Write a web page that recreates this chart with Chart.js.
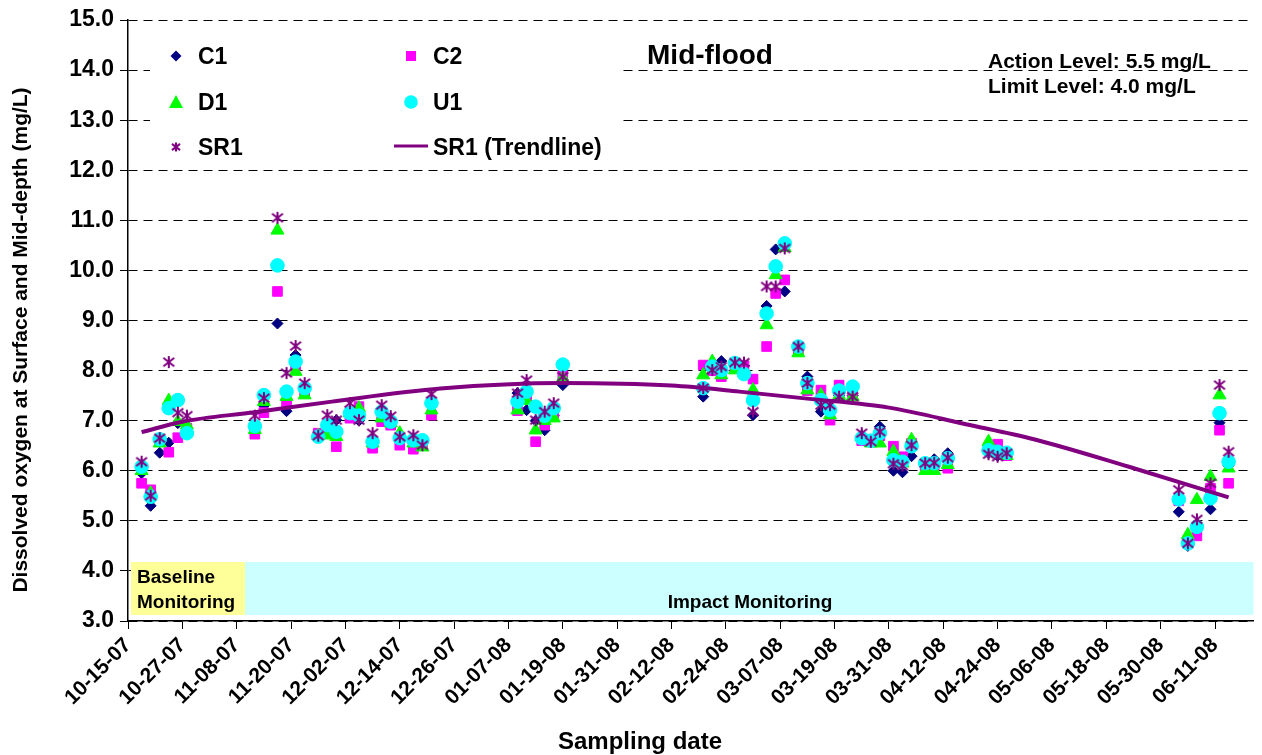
<!DOCTYPE html>
<html><head><meta charset="utf-8">
<script src="https://cdn.jsdelivr.net/npm/chart.js@4/dist/chart.umd.min.js"></script>
<style>html,body{margin:0;padding:0;background:#fff}#wrap{width:1262px;height:755px;position:relative}</style>
</head><body><div id="wrap"><canvas id="c"></canvas></div>
<script>
// ---------- DATA ----------
const seriesNames = ['C1', 'C2', 'D1', 'U1', 'SR1', 'SR1 (Trendline)'];
const dates = ['10-18-07','10-20-07','10-22-07','10-24-07','10-26-07','10-28-07',
'11-12-07','11-14-07','11-17-07','11-19-07','11-21-07','11-23-07',
'11-26-07','11-28-07','11-30-07','12-03-07','12-05-07','12-08-07','12-10-07','12-12-07','12-14-07','12-17-07','12-19-07','12-21-07',
'01-09-08','01-11-08','01-13-08','01-15-08','01-17-08','01-19-08',
'02-19-08','02-21-08','02-23-08','02-26-08','02-28-08','03-01-08','03-04-08','03-06-08','03-08-08','03-11-08','03-13-08','03-16-08','03-18-08','03-20-08','03-23-08',
'03-25-08','03-27-08','03-29-08','04-01-08','04-03-08','04-05-08','04-08-08','04-10-08','04-13-08',
'04-22-08','04-24-08','04-26-08',
'06-03-08','06-05-08','06-07-08','06-10-08','06-12-08','06-14-08'];
const c1 = [5.95,5.30,6.36,6.56,6.95,6.85,
6.85,7.30,8.94,7.19,8.31,7.60,
6.72,6.80,7.01,7.20,7.00,6.55,7.00,7.05,6.65,6.60,6.55,7.30,
7.55,7.21,7.00,6.81,7.10,7.71,
7.48,8.10,8.19,8.10,8.10,7.11,9.29,10.42,9.58,8.45,7.88,7.18,7.15,7.50,7.50,
6.70,6.60,6.88,6.00,5.97,6.29,6.10,6.23,6.35,
6.35,6.30,6.35,
5.18,4.50,4.90,5.23,6.96,6.10];
const c2 = [5.75,5.62,6.58,6.37,6.66,6.85,
6.73,7.16,9.58,7.35,8.10,7.55,
6.75,6.80,6.48,7.05,7.28,6.45,6.98,6.91,6.51,6.43,6.50,7.11,
7.20,7.45,6.58,6.91,7.15,7.90,
8.11,8.00,7.88,8.05,8.10,7.83,8.48,9.54,9.81,8.40,7.60,7.61,7.01,7.71,7.55,
6.60,6.62,6.70,6.49,6.28,6.55,6.10,6.10,6.05,
6.45,6.53,6.30,
5.40,4.60,4.70,5.65,6.81,5.75];
const d1 = [6.00,5.55,6.55,7.40,6.98,6.91,
6.82,7.38,10.80,7.48,7.98,7.51,
6.70,6.71,6.68,7.15,7.25,6.55,7.05,6.95,6.75,6.55,6.47,7.21,
7.21,7.40,6.81,7.00,7.05,7.85,
7.91,8.18,7.91,8.01,7.95,7.61,8.91,9.91,10.45,8.35,7.61,7.51,7.11,7.50,7.48,
6.68,6.55,6.55,6.38,6.15,6.62,6.00,6.00,6.12,
6.58,6.35,6.30,
5.45,4.72,5.42,5.88,7.51,6.05];
const u1 = [6.08,5.48,6.63,7.25,7.41,6.75,
6.89,7.51,10.10,7.58,8.18,7.65,
6.68,6.91,6.78,7.15,7.10,6.58,7.18,6.98,6.65,6.61,6.61,7.35,
7.38,7.58,7.28,7.10,7.25,8.12,
7.65,8.08,8.01,8.15,7.93,7.41,9.14,10.08,10.54,8.48,7.75,7.41,7.21,7.60,7.68,
6.65,6.60,6.75,6.21,6.18,6.49,6.15,6.15,6.25,
6.41,6.38,6.36,
5.43,4.55,4.88,5.45,7.15,6.18];
const sr1 = [6.18,5.50,6.65,8.17,7.16,7.10,
7.10,7.45,11.05,7.95,8.49,7.75,
6.70,7.11,7.01,7.35,7.01,6.75,7.31,7.09,6.68,6.71,6.51,7.53,
7.55,7.81,7.01,7.18,7.35,7.88,
7.65,8.01,8.08,8.16,8.16,7.18,9.68,9.68,10.44,8.48,7.75,7.31,7.31,7.48,7.48,
6.75,6.58,6.78,6.14,6.10,6.51,6.15,6.16,6.26,
6.33,6.28,6.35,
5.62,4.55,5.03,5.75,7.71,6.38];
// trendline
const trendDates = ['10-18-07','10-27-07','11-12-07','11-29-07','12-23-07','01-19-08','02-12-08','02-27-08','03-13-08','03-31-08','04-17-08','05-02-08','05-23-08','06-14-08'];
const trendValues = [6.77,6.98,7.17,7.38,7.64,7.75,7.70,7.58,7.44,7.26,6.93,6.63,6.08,5.47];
const tickLabels = ['10-15-07','10-27-07','11-08-07','11-20-07','12-02-07','12-14-07','12-26-07','01-07-08','01-19-08','01-31-08','02-12-08','02-24-08','03-07-08','03-19-08','03-31-08','04-12-08','04-24-08','05-06-08','05-18-08','05-30-08','06-11-08'];
const phaseLabels = ['Baseline', 'Monitoring', 'Impact Monitoring'];
const chartTitle = 'Mid-flood';
const levelNotes = ['Action Level: 5.5 mg/L', 'Limit Level: 4.0 mg/L'];
const xTitle = 'Sampling date';
const yTitle = 'Dissolved oxygen at Surface and Mid-depth (mg/L)';

// ---------- HELPERS ----------
const FONT = '"Liberation Sans", Arial, Helvetica, sans-serif';
const ORIGIN = Date.UTC(2007, 9, 15);
function dayOf(s) { const [m, d, y] = s.split('-').map(Number); return (Date.UTC(2000 + y, m - 1, d) - ORIGIN) / 86400000; }
function pts(vals) { return dates.map((d, i) => ({x: dayOf(d), y: vals[i]})).filter(p => p.y != null); }

function starCanvas(size, r, lw) {
  const cv = document.createElement('canvas'); cv.width = cv.height = size;
  const g = cv.getContext('2d'); g.strokeStyle = '#800080'; g.lineWidth = lw; g.lineCap = 'butt';
  const c = size / 2;
  g.beginPath();
  g.moveTo(c, c - r); g.lineTo(c, c + r);
  g.moveTo(c - r * 0.9, c - r * 0.7); g.lineTo(c + r * 0.9, c + r * 0.7);
  g.moveTo(c - r * 0.9, c + r * 0.7); g.lineTo(c + r * 0.9, c - r * 0.7);
  g.stroke();
  return cv;
}
const starPlot = starCanvas(14, 6, 2);

const C = {c1: '#000080', c2: '#FF00FF', d1: '#00FF00', u1: '#00FFFF', sr: '#800080'};

const decor = {
  id: 'decor',
  beforeDatasetsDraw(chart) {
    const ctx = chart.ctx, a = chart.chartArea;
    ctx.save();
    ctx.fillStyle = '#FFFF99'; ctx.fillRect(a.left + 3, 562, 114, 53);
    ctx.fillStyle = '#CCFFFF'; ctx.fillRect(a.left + 117, 562, a.right - a.left - 117, 53);
    ctx.fillStyle = '#000'; ctx.font = 'bold 19px ' + FONT; ctx.textBaseline = 'alphabetic';
    ctx.textAlign = 'left';
    ctx.fillText(phaseLabels[0], 137, 583);
    ctx.fillText(phaseLabels[1], 137, 608);
    ctx.textAlign = 'center';
    ctx.fillText(phaseLabels[2], 750, 608);
    // legend background
    ctx.fillStyle = '#fff'; ctx.fillRect(150, 30, 470, 135);
    ctx.restore();
  },
  afterDatasetsDraw(chart) {
    const ctx = chart.ctx;
    ctx.save();
    ctx.fillStyle = '#000'; ctx.textBaseline = 'alphabetic'; ctx.textAlign = 'left';
    // legend
    const rows = [56, 102, 147], cols = [176, 411];
    ctx.font = 'bold 23px ' + FONT;
    const lab = (t, x, y) => ctx.fillText(t, x, y + 8);
    ctx.fillStyle = C.c1; ctx.beginPath();
    ctx.moveTo(cols[0] - 5.5, rows[0]); ctx.lineTo(cols[0], rows[0] - 5.5); ctx.lineTo(cols[0] + 5.5, rows[0]); ctx.lineTo(cols[0], rows[0] + 5.5); ctx.closePath(); ctx.fill();
    ctx.fillStyle = C.c2; ctx.fillRect(cols[1] - 5, rows[0] - 5, 10, 10);
    ctx.fillStyle = C.d1; ctx.beginPath();
    ctx.moveTo(cols[0], rows[1] - 7); ctx.lineTo(cols[0] + 7, rows[1] + 6); ctx.lineTo(cols[0] - 7, rows[1] + 6); ctx.closePath(); ctx.fill();
    ctx.fillStyle = C.u1; ctx.beginPath(); ctx.arc(cols[1], rows[1], 6.8, 0, Math.PI * 2); ctx.fill();
    ctx.drawImage(starCanvas(12, 4.5, 2), cols[0] - 6, rows[2] - 6);
    ctx.strokeStyle = C.sr; ctx.lineWidth = 3; ctx.beginPath(); ctx.moveTo(394, rows[2] - 1); ctx.lineTo(428, rows[2] - 1); ctx.stroke();
    ctx.fillStyle = '#000';
    lab(seriesNames[0], 198, rows[0]); lab(seriesNames[1], 433, rows[0]);
    lab(seriesNames[2], 198, rows[1]); lab(seriesNames[3], 433, rows[1]);
    lab(seriesNames[4], 198, rows[2]); lab(seriesNames[5], 433, rows[2]);
    // title
    ctx.font = 'bold 28px ' + FONT; ctx.textAlign = 'center';
    ctx.fillText(chartTitle, 710, 64);
    // level notes
    ctx.font = 'bold 21px ' + FONT; ctx.textAlign = 'left';
    ctx.fillText(levelNotes[0], 988, 68);
    ctx.fillText(levelNotes[1], 988, 93);
    // axis titles
    ctx.font = 'bold 24px ' + FONT; ctx.textAlign = 'center';
    ctx.fillText(xTitle, 640, 749);
    ctx.translate(27, 340); ctx.rotate(-Math.PI / 2);
    ctx.font = 'bold 21px ' + FONT;
    ctx.fillText(yTitle, 0, 0);
    ctx.restore();
  }
};

const mk = (label, data, color, style, radius, order) => ({
  label, data, order, showLine: false,
  pointStyle: style, pointRadius: radius, pointHoverRadius: radius,
  pointBackgroundColor: color, pointBorderColor: color, pointBorderWidth: 1,
  backgroundColor: color, borderColor: color
});

new Chart(document.getElementById('c'), {
  type: 'scatter',
  data: {
    datasets: [
      mk(seriesNames[0], pts(c1), C.c1, 'rectRot', 5.5, 6),
      mk(seriesNames[1], pts(c2), C.c2, 'rect', 6.8, 5),
      mk(seriesNames[2], pts(d1), C.d1, 'triangle', 7.5, 4),
      mk(seriesNames[3], pts(u1), C.u1, 'circle', 6.8, 3),
      Object.assign(mk(seriesNames[4], pts(sr1), C.sr, starPlot, 7, 2), {pointBorderWidth: 0}),
      {
        type: 'line', label: seriesNames[5], order: 1, showLine: true,
        data: trendDates.map((d, i) => ({x: dayOf(d), y: trendValues[i]})),
        borderColor: C.sr, backgroundColor: C.sr, borderWidth: 4, pointRadius: 0, pointHoverRadius: 0,
        cubicInterpolationMode: 'monotone', fill: false
      }
    ]
  },
  options: {
    responsive: true, maintainAspectRatio: false, animation: false, devicePixelRatio: 1,
    layout: {padding: {top: 20, right: 6, left: 0, bottom: 0}},
    plugins: {legend: {display: false}, tooltip: {enabled: false}},
    events: [],
    scales: {
      x: {
        type: 'linear', min: 0, max: 248.5,
        afterFit(s) { s.height = 134; },
        afterBuildTicks(s) { s.ticks = s.ticks.filter(t => Math.abs(t.value / 12 - Math.round(t.value / 12)) < 1e-6 && t.value <= 240); },
        ticks: {
          stepSize: 12, includeBounds: false, autoSkip: false, maxRotation: 45, minRotation: 45,
          color: '#000', font: {family: FONT, size: 21, weight: 'bold'}, padding: 4,
          callback: (v) => tickLabels[Math.round(v / 12)] || ''
        },
        grid: {drawOnChartArea: false, drawTicks: true, tickLength: 8, color: '#000', lineWidth: 1},
        border: {display: true, color: '#000', width: 1.5}
      },
      y: {
        min: 3, max: 15,
        afterFit(s) { s.width = 128; },
        ticks: {
          stepSize: 1, color: '#000', padding: 6,
          font: {family: FONT, size: 23, weight: 'bold'},
          callback: (v) => Number(v).toFixed(1)
        },
        grid: {drawOnChartArea: true, drawTicks: true, tickLength: 8, color: '#000', lineWidth: 1, tickBorderDash: [], tickColor: '#000'},
        border: {display: true, color: '#000', width: 1.5, dash: [9, 6]}
      }
    }
  },
  plugins: [decor]
});
</script>
</body></html>
